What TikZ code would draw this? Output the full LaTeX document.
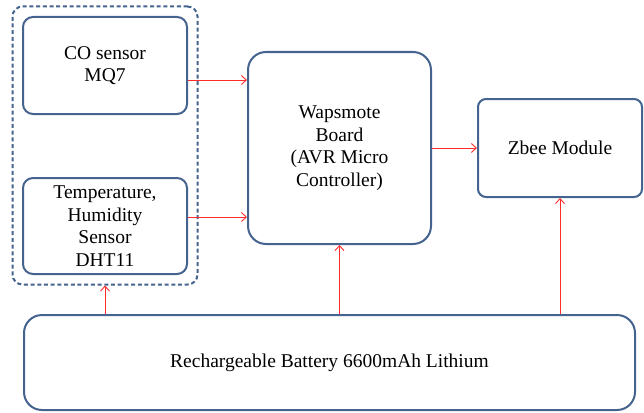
\documentclass[tikz,border=0pt]{standalone}
\usepackage{fontspec}
\setmainfont{Liberation Serif}
\usetikzlibrary{arrows.meta,positioning,fit}
\definecolor{edgeblue}{HTML}{44638F}
\definecolor{linkred}{HTML}{FF2A2A}
\tikzset{
  blk/.style={rounded corners=#1, draw=edgeblue, line width=2pt, align=center,
              inner sep=0pt, font=\fontsize{19.5}{22.5}\selectfont},
  grp/.style={rounded corners=10pt, draw=edgeblue, line width=2pt,
              dash pattern=on 4pt off 2.7pt, inner sep=9.5pt},
  flow/.style={-{Straight Barb[length=5pt,width=9pt]}, line width=0.9pt,
               draw=linkred},
}

\begin{document}
\begin{tikzpicture}[x=1pt,y=-1pt]
\useasboundingbox (0,0) rectangle (644,412);

% ---------------- sensors ------------------------------------------------
\node[blk=10pt, minimum width=164pt, minimum height=97pt] at (105,65.5) (co)
  {CO sensor\\MQ7};
\node[blk=10pt, minimum width=164pt, minimum height=96pt] at (105,226) (dht)
  {Temperature,\\Humidity\\Sensor\\DHT11};
\node[grp, fit=(co) (dht)] (sens) {};

% ---------------- board, radio, battery ----------------------------------
\node[blk=18pt, minimum width=183pt, minimum height=192pt] at (339.5,148) (wasp)
  {Wapsmote\\Board\\(AVR Micro\\Controller)};
\node[blk=8pt, minimum width=164pt, minimum height=98pt] at (560,148) (zbee)
  {Zbee Module};
\node[blk=18pt, minimum width=611pt, minimum height=95pt] at (329.5,362.5) (bat)
  {Rechargeable Battery 6600mAh Lithium};

% ---------------- links --------------------------------------------------
\draw[flow] ([yshift=-14.5pt]co.east) -- ([yshift=-14.5pt]co.east -| wasp.west);
\draw[flow] ([yshift=9pt]dht.east) -- ([yshift=9pt]dht.east -| wasp.west);
\draw[flow] (wasp.east) -- (zbee.west);
\draw[flow] (bat.north -| sens.south) -- (sens.south);
\draw[flow] (bat.north -| wasp.south) -- (wasp.south);
\draw[flow] (bat.north -| zbee.south) -- (zbee.south);
\end{tikzpicture}
\end{document}
